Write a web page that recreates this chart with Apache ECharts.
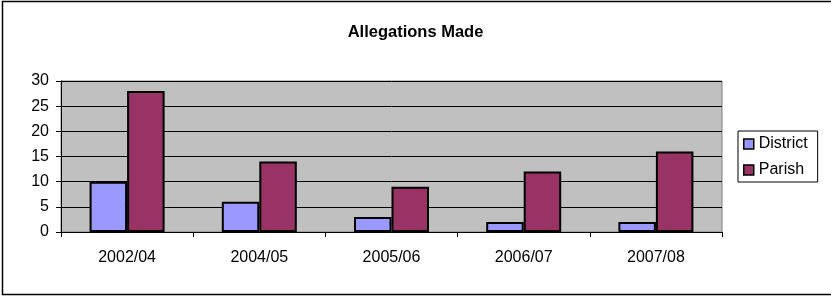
<!DOCTYPE html>
<html>
<head>
<meta charset="utf-8">
<script src="https://cdn.jsdelivr.net/npm/echarts@6/dist/echarts.min.js"></script>
<style>
html,body{margin:0;padding:0;background:#fff;}
#c{width:831px;height:296px;}
</style>
</head>
<body>
<div id="c"></div>
<script>
var categories = ['2002/04', '2004/05', '2005/06', '2006/07', '2007/08'];
var districtValues = [10, 6, 3, 2, 2];
var parishValues = [28, 14, 9, 12, 16];
var yTicks = [0, 5, 10, 15, 20, 25, 30];

var FONT = '"Liberation Sans", Arial, sans-serif';
var chart = echarts.init(document.getElementById('c'), null, {renderer: 'canvas'});
chart.setOption({
  animation: false,
  backgroundColor: '#fff',
  textStyle: {fontFamily: FONT, color: '#000'},
  title: {
    text: 'Allegations Made',
    left: 'center',
    top: 19,
    textStyle: {fontFamily: FONT, fontSize: 16.5, fontWeight: 'bold', color: '#000'}
  },
  graphic: [{
    type: 'rect',
    shape: {x: 2.5, y: 1.5, width: 840, height: 293},
    style: {fill: 'none', stroke: '#000', lineWidth: 1.5},
    silent: true,
    z: 100
  }],
  legend: {
    orient: 'vertical',
    left: 738,
    top: 131,
    padding: [5, 10, 4, 5],
    itemGap: 10,
    itemWidth: 10,
    itemHeight: 10,
    icon: 'rect',
    backgroundColor: '#fff',
    borderColor: '#000',
    borderWidth: 1,
    borderRadius: 0,
    textStyle: {fontFamily: FONT, fontSize: 16, color: '#000'},
    itemStyle: {borderColor: '#000', borderWidth: 1.5},
    data: ['District', 'Parish']
  },
  grid: {
    left: 61, right: 109, top: 81, bottom: 64,
    show: true,
    backgroundColor: '#C0C0C0',
    borderColor: '#808080',
    borderWidth: 1,
    containLabel: false
  },
  xAxis: {
    type: 'category',
    data: categories,
    axisLine: {show: true, lineStyle: {color: '#000', width: 1}},
    axisTick: {show: true, length: 5, lineStyle: {color: '#000'}},
    axisLabel: {fontFamily: FONT, fontSize: 16, color: '#000', margin: 18},
    splitLine: {show: false}
  },
  yAxis: {
    type: 'value',
    min: yTicks[0],
    max: yTicks[yTicks.length - 1],
    interval: yTicks[1] - yTicks[0],
    axisLine: {show: true, lineStyle: {color: '#000', width: 1}},
    axisTick: {show: true, length: 5, lineStyle: {color: '#000'}},
    axisLabel: {fontFamily: FONT, fontSize: 16, color: '#000', margin: 12},
    splitLine: {show: true, lineStyle: {color: '#000', width: 1}}
  },
  series: [{
    name: 'District',
    type: 'bar',
    data: districtValues,
    barWidth: 37.5,
    barGap: '0%',
    itemStyle: {color: '#9999FF', borderColor: '#000', borderWidth: 2}
  }, {
    name: 'Parish',
    type: 'bar',
    data: parishValues,
    barWidth: 37.5,
    barGap: '0%',
    itemStyle: {color: '#993366', borderColor: '#000', borderWidth: 2}
  }]
});
</script>
</body>
</html>
